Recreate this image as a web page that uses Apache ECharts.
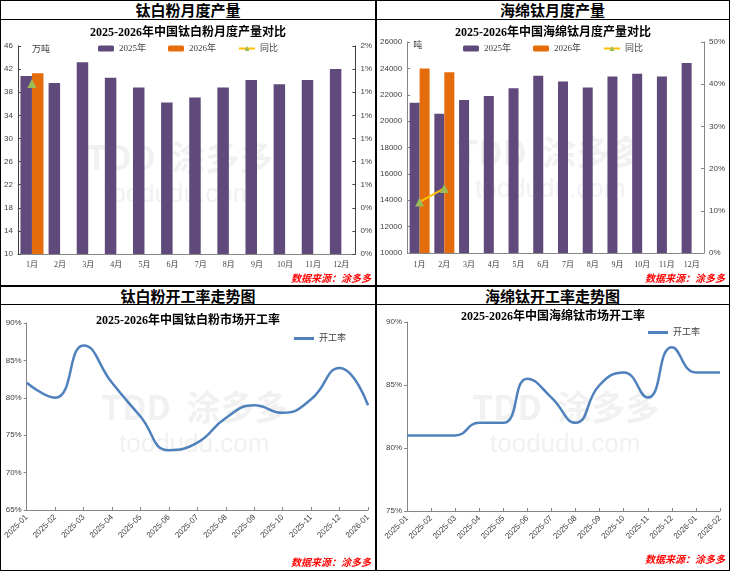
<!DOCTYPE html>
<html>
<head>
<meta charset="utf-8">
<script src="https://cdn.jsdelivr.net/npm/echarts@6/dist/echarts.min.js"></script>
<style>
html,body{margin:0;padding:0;background:#fff;}
.wrap{position:relative;width:730px;height:571px;overflow:hidden;font-family:"Noto Sans CJK SC",sans-serif;}
.ln{position:absolute;background:#000;}
.hd{position:absolute;height:18px;line-height:18px;text-align:center;font-weight:bold;font-size:15px;color:#000;}
.ch{position:absolute;}
</style>
</head>
<body>
<div class="wrap">
  <div class="hd" style="left:1px;top:1px;width:374px;">钛白粉月度产量</div>
  <div class="hd" style="left:376px;top:1px;width:353px;">海绵钛月度产量</div>
  <div class="hd" style="left:1px;top:287px;width:374px;">钛白粉开工率走势图</div>
  <div class="hd" style="left:376px;top:287px;width:353px;">海绵钛开工率走势图</div>

  <div class="ch" id="chart1" style="left:1px;top:20px;width:374px;height:266px;"></div>
  <div class="ch" id="chart2" style="left:377px;top:20px;width:352px;height:266px;"></div>
  <div class="ch" id="chart3" style="left:1px;top:305px;width:374px;height:265px;"></div>
  <div class="ch" id="chart4" style="left:377px;top:305px;width:352px;height:265px;"></div>

  <div class="ln" style="left:0;top:0;width:730px;height:1px;"></div>
  <div class="ln" style="left:0;top:570px;width:730px;height:1px;"></div>
  <div class="ln" style="left:0;top:0;width:1px;height:571px;"></div>
  <div class="ln" style="left:729px;top:0;width:1px;height:571px;"></div>
  <div class="ln" style="left:375px;top:0;width:2px;height:571px;"></div>
  <div class="ln" style="left:0;top:19px;width:730px;height:1px;"></div>
  <div class="ln" style="left:0;top:285px;width:730px;height:2px;"></div>
  <div class="ln" style="left:0;top:304px;width:730px;height:1px;"></div>
</div>
<script>
// 月份
var months = ['1月','2月','3月','4月','5月','6月','7月','8月','9月','10月','11月','12月'];
// 钛白粉 万吨
var tb2025 = [40.8, 39.6, 43.2, 40.5, 38.8, 36.2, 37.1, 38.8, 40.1, 39.4, 40.1, 42.0];
var tb2026 = [41.3];
var tbYoy = [1.23];
// 海绵钛 吨
var hm2025 = [21400, 20550, 21600, 21900, 22500, 23450, 23000, 22550, 23380, 23600, 23380, 24400];
var hm2026 = [24000, 23700];
var hmYoy = [12.1, 15.3];
// 开工率
var tbDates = ['2025-01','2025-02','2025-03','2025-04','2025-05','2025-06','2025-07','2025-08','2025-09','2025-10','2025-11','2025-12','2026-01'];
var tbRate = [82, 80, 87, 82, 77.5, 73, 74, 77.3, 79, 78, 79.8, 84, 79];
var hmDates = ['2025-01','2025-02','2025-03','2025-04','2025-05','2025-06','2025-07','2025-08','2025-09','2025-10','2025-11','2025-12','2026-01','2026-02'];
var hmRate = [81, 81, 81, 82, 82, 85.5, 84, 82, 85, 86, 84, 88, 86, 86];

var C_PURPLE = '#604A7B', C_ORANGE = '#E46C0A', C_GOLD = '#FFC000', C_GREEN = '#9BBB59', C_BLUE = '#4F81BD';
var AXIS = '#868686';
var serif = '"Liberation Serif","Noto Sans CJK SC",serif';
var sans = '"Liberation Sans","Noto Sans CJK SC",sans-serif';

function watermark(x, y) {
    return [{
        type: 'text', left: x, top: y, z: -1, silent: true,
        style: {text: 'TDD  涂多多', fill: 'rgba(200,200,200,0.25)', font: 'bold 34px "Noto Sans CJK SC"'}
    }, {
        type: 'text', left: x + 18, top: y + 42, z: -1, silent: true,
        style: {text: 'toodudu.com', fill: 'rgba(200,200,200,0.25)', font: '26px "Liberation Sans"'}
    }];
}
function source(bottom) {
    return {
        type: 'text', right: 4, bottom: bottom, silent: true,
        style: {text: '数据来源：涂多多', fill: '#FF0000', font: 'italic bold 10px "Noto Sans CJK SC"'}
    };
}

echarts_1()
echarts_2()
echarts_3()
echarts_4()

function echarts_1() {
    var myChart = echarts.init(document.getElementById('chart1'));
    var option = {
        animation: false,
        title: {
            text: '2025-2026年中国钛白粉月度产量对比', left: 'center', top: 2,
            textStyle: {fontSize: 12, fontWeight: 'bold', color: '#000', fontFamily: serif}
        },
        legend: {
            top: 19, left: 'center', itemWidth: 16, itemHeight: 6, itemGap: 22,
            textStyle: {fontSize: 9, color: '#404040', fontFamily: serif},
            data: ['2025年', '2026年', '同比']
        },
        grid: {left: 16, right: 17, top: 26, bottom: 32},
        xAxis: {
            type: 'category', data: months,
            axisLine: {lineStyle: {color: AXIS}},
            axisTick: {show: false},
            axisLabel: {fontSize: 8, color: '#404040', margin: 7, fontFamily: serif}
        },
        yAxis: [{
            type: 'value', min: 10, max: 46, interval: 4,
            name: '万吨', nameLocation: 'end', nameGap: -8,
            nameTextStyle: {fontSize: 9, color: '#404040', align: 'left', padding: [0, 0, 0, 14], fontFamily: serif},
            axisLine: {show: true, lineStyle: {color: '#404040'}},
            axisTick: {show: true, inside: true, length: 3},
            splitLine: {show: false},
            axisLabel: {fontSize: 8, color: '#404040', margin: 5, fontFamily: sans}
        }, {
            type: 'value', min: 0, max: 1.5, interval: 1.5 / 9,
            axisLine: {show: true, lineStyle: {color: '#404040'}},
            axisTick: {show: true, inside: true, length: 3},
            splitLine: {show: false},
            axisLabel: {fontSize: 8, color: '#404040', margin: 5, fontFamily: sans,
                formatter: function (v) { return Math.round(v) + '%'; }}
        }],
        graphic: watermark(85, 120).concat([source(3)]),
        series: [{
            name: '2025年', type: 'bar', data: tb2025, barWidth: 11.5, barGap: '0%',
            itemStyle: {color: C_PURPLE}
        }, {
            name: '2026年', type: 'bar', data: tb2026, barWidth: 11.5,
            itemStyle: {color: C_ORANGE}
        }, {
            name: '同比', type: 'line', yAxisIndex: 1, data: tbYoy,
            symbol: 'triangle', symbolSize: 9,
            lineStyle: {color: C_GOLD, width: 2},
            itemStyle: {color: C_GREEN}
        }]
    };
    myChart.setOption(option);
    window.addEventListener("resize", function () { myChart.resize(); });
}

function echarts_2() {
    var myChart = echarts.init(document.getElementById('chart2'));
    var option = {
        animation: false,
        title: {
            text: '2025-2026年中国海绵钛月度产量对比', left: 'center', top: 2,
            textStyle: {fontSize: 12, fontWeight: 'bold', color: '#000', fontFamily: serif}
        },
        legend: {
            top: 19, left: 'center', itemWidth: 16, itemHeight: 6, itemGap: 22,
            textStyle: {fontSize: 9, color: '#404040', fontFamily: serif},
            data: ['2025年', '2026年', '同比']
        },
        grid: {left: 25, right: 25, top: 22, bottom: 33},
        xAxis: {
            type: 'category', data: months,
            axisLine: {lineStyle: {color: AXIS}},
            axisTick: {show: false},
            axisLabel: {fontSize: 8, color: '#404040', margin: 8, fontFamily: serif}
        },
        yAxis: [{
            type: 'value', min: 10000, max: 26000, interval: 2000,
            name: '吨', nameLocation: 'end', nameGap: -8,
            nameTextStyle: {fontSize: 9, color: '#404040', align: 'left', padding: [0, 0, 0, 6], fontFamily: serif},
            axisLine: {show: true, lineStyle: {color: AXIS}},
            axisTick: {show: true, inside: true, length: 3},
            splitLine: {show: false},
            axisLabel: {fontSize: 8, color: '#404040', margin: 5, fontFamily: sans,
                formatter: function (v) { return String(v); }}
        }, {
            type: 'value', min: 0, max: 50, interval: 10,
            axisLine: {show: true, lineStyle: {color: AXIS}},
            axisTick: {show: true, inside: true, length: 3},
            splitLine: {show: false},
            axisLabel: {fontSize: 8, color: '#404040', margin: 5, fontFamily: sans, formatter: '{value}%'}
        }],
        graphic: watermark(80, 115).concat([source(3)]),
        series: [{
            name: '2025年', type: 'bar', data: hm2025, barWidth: 10, barGap: '0%',
            itemStyle: {color: C_PURPLE}
        }, {
            name: '2026年', type: 'bar', data: hm2026, barWidth: 10,
            itemStyle: {color: C_ORANGE}
        }, {
            name: '同比', type: 'line', yAxisIndex: 1, data: hmYoy,
            symbol: 'triangle', symbolSize: 9,
            lineStyle: {color: C_GOLD, width: 2},
            itemStyle: {color: C_GREEN}
        }]
    };
    myChart.setOption(option);
    window.addEventListener("resize", function () { myChart.resize(); });
}

function echarts_3() {
    var myChart = echarts.init(document.getElementById('chart3'));
    var option = {
        animation: false,
        title: {
            text: '2025-2026年中国钛白粉市场开工率', left: 'center', top: 5,
            textStyle: {fontSize: 12, fontWeight: 'bold', color: '#000', fontFamily: serif}
        },
        legend: {
            top: 24, right: 24, itemWidth: 20, itemHeight: 3,
            textStyle: {fontSize: 9, color: '#404040', fontFamily: serif},
            data: [{name: '开工率', icon: 'rect'}]
        },
        grid: {left: 25, right: 7, top: 18, bottom: 60},
        xAxis: {
            type: 'category', data: tbDates, boundaryGap: false,
            axisLine: {lineStyle: {color: AXIS}},
            axisTick: {show: true, inside: true, length: 3, lineStyle: {color: AXIS}},
            axisLabel: {fontSize: 8, color: '#404040', rotate: 45, margin: 6, fontFamily: sans, interval: 0}
        },
        yAxis: {
            type: 'value', min: 65, max: 90, interval: 5,
            axisLine: {show: true, lineStyle: {color: AXIS}},
            axisTick: {show: true, length: 3},
            splitLine: {show: false},
            axisLabel: {fontSize: 8, color: '#404040', margin: 5, fontFamily: sans, formatter: '{value}%'}
        },
        graphic: watermark(100, 85).concat([source(3)]),
        series: [{
            name: '开工率', type: 'line', data: tbRate, smooth: true, symbol: 'none',
            lineStyle: {color: C_BLUE, width: 2.5},
            itemStyle: {color: C_BLUE}
        }]
    };
    myChart.setOption(option);
    window.addEventListener("resize", function () { myChart.resize(); });
}

function echarts_4() {
    var myChart = echarts.init(document.getElementById('chart4'));
    var option = {
        animation: false,
        title: {
            text: '2025-2026年中国海绵钛市场开工率', left: 'center', top: 1,
            textStyle: {fontSize: 12, fontWeight: 'bold', color: '#000', fontFamily: serif}
        },
        legend: {
            top: 18, right: 24, itemWidth: 20, itemHeight: 3,
            textStyle: {fontSize: 9, color: '#404040', fontFamily: serif},
            data: [{name: '开工率', icon: 'rect'}]
        },
        grid: {left: 30, right: 9, top: 17, bottom: 59},
        xAxis: {
            type: 'category', data: hmDates, boundaryGap: false,
            axisLine: {lineStyle: {color: AXIS}},
            axisTick: {show: true, inside: true, length: 3, lineStyle: {color: AXIS}},
            axisLabel: {fontSize: 8, color: '#404040', rotate: 45, margin: 6, fontFamily: sans, interval: 0}
        },
        yAxis: {
            type: 'value', min: 75, max: 90, interval: 5,
            axisLine: {show: true, lineStyle: {color: AXIS}},
            axisTick: {show: true, length: 3},
            splitLine: {show: false},
            axisLabel: {fontSize: 8, color: '#404040', margin: 5, fontFamily: sans, formatter: '{value}%'}
        },
        graphic: watermark(95, 85).concat([source(6)]),
        series: [{
            name: '开工率', type: 'line', data: hmRate, smooth: true, symbol: 'none',
            lineStyle: {color: C_BLUE, width: 2.5},
            itemStyle: {color: C_BLUE}
        }]
    };
    myChart.setOption(option);
    window.addEventListener("resize", function () { myChart.resize(); });
}
</script>
</body>
</html>
